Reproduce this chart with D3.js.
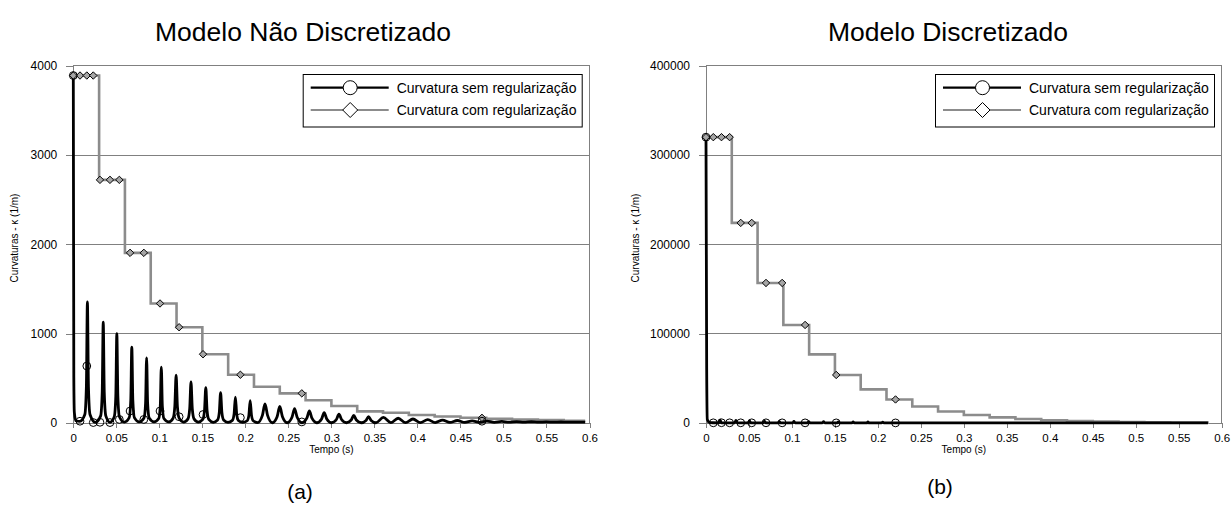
<!DOCTYPE html>
<html>
<head>
<meta charset="utf-8">
<script src="https://cdn.jsdelivr.net/npm/d3@7"></script>
<style>
  html, body { margin: 0; padding: 0; background: #fff; }
  svg { display: block; font-family: "Liberation Sans", Arial, Helvetica, sans-serif; }
</style>
</head>
<body>
<svg id="fig" width="1232" height="506"></svg>
<script>
// ---- shared tick values ----
const tempoTicks = [0, 0.05, 0.1, 0.15, 0.2, 0.25, 0.3, 0.35, 0.4, 0.45, 0.5, 0.55, 0.6];
const kTicksA = [0, 1000, 2000, 3000, 4000];
const kTicksB = [0, 100000, 200000, 300000, 400000];
const legendLabels = ["Curvatura sem regularização", "Curvatura com regularização"];

// ---- (a) Modelo Não Discretizado ----
// regularised curvature, constant over each 0.03 s interval
const stepTempoA = [0, 0.03, 0.06, 0.09, 0.12, 0.15, 0.18, 0.21, 0.24, 0.27, 0.30,
                    0.33, 0.36, 0.39, 0.42, 0.45, 0.48, 0.51, 0.54, 0.57, 0.595];
const stepKappaA = [3890, 2722, 1905, 1338, 1072, 770, 540, 405, 332, 255, 190,
                    130, 115, 90, 72, 58, 48, 40, 32, 26, 26];

// curvature without regularisation (time s, curvature 1/m)
const semRegA = [
  [0, 3890], [0.0006, 510], [0.0012, 120], [0.003, 25], [0.0075, 18],
  [0.0134, 95], [0.0152, 405], [0.0164, 1355], [0.0176, 405], [0.0194, 95], [0.0256, 8],
  [0.0318, 80], [0.0336, 340], [0.0348, 1130], [0.036, 340], [0.0378, 80], [0.0427, 8],
  [0.0476, 70], [0.0494, 300], [0.0506, 1000], [0.0518, 300], [0.0536, 70], [0.0593, 10],
  [0.065, 60], [0.0668, 255], [0.068, 850], [0.0692, 255], [0.071, 60], [0.0766, 12],
  [0.0822, 55], [0.084, 220], [0.0852, 730], [0.0864, 220], [0.0882, 55], [0.0938, 12],
  [0.0993, 50], [0.1011, 190], [0.1023, 625], [0.1035, 190], [0.1053, 50], [0.1109, 12],
  [0.116, 54], [0.118, 187], [0.1195, 535], [0.121, 187], [0.123, 54], [0.1282, 10],
  [0.1333, 46], [0.1353, 161], [0.1368, 460], [0.1383, 161], [0.1403, 46], [0.1454, 10],
  [0.1505, 40], [0.1525, 138], [0.154, 395], [0.1555, 138], [0.1575, 40], [0.1626, 8],
  [0.1677, 34], [0.1697, 119], [0.1712, 340], [0.1727, 119], [0.1747, 34], [0.1798, 8],
  [0.1849, 29], [0.1869, 102], [0.1884, 290], [0.1899, 102], [0.1919, 29], [0.197, 6],
  [0.2021, 25], [0.2041, 88], [0.2056, 250], [0.2071, 88], [0.2091, 25], [0.2142, 5],
  [0.2198, 86], [0.2228, 215], [0.2258, 86], [0.2314, 3],
  [0.237, 74], [0.24, 185], [0.243, 74], [0.2486, 3],
  [0.2542, 64], [0.2572, 160], [0.2602, 64], [0.2658, 3],
  [0.2714, 54], [0.2744, 135], [0.2774, 54], [0.283, 3],
  [0.2886, 46], [0.2916, 115], [0.2946, 46], [0.3002, 3],
  [0.3058, 39], [0.3088, 98], [0.3118, 39], [0.3174, 3],
  [0.323, 34], [0.326, 84], [0.329, 34], [0.3346, 3],
  [0.3402, 29], [0.3432, 72], [0.3462, 29], [0.3518, 3],
  [0.3604, 62], [0.369, 4], [0.3776, 53], [0.3862, 4], [0.3948, 45], [0.4034, 5],
  [0.412, 38], [0.4206, 5], [0.4292, 33], [0.4378, 6], [0.4464, 28], [0.455, 7],
  [0.4636, 24], [0.4722, 8], [0.4808, 21], [0.4894, 8], [0.498, 18], [0.5066, 9],
  [0.5152, 16], [0.5238, 9], [0.5324, 14], [0.541, 9], [0.5496, 12], [0.5582, 9],
  [0.5668, 11], [0.5754, 9], [0.584, 10], [0.595, 9]
];

// marked samples
const markTempoA = [0, 0.0078, 0.0157, 0.0232, 0.031, 0.0426, 0.0535, 0.066, 0.082,
                    0.1008, 0.123, 0.1508, 0.1942, 0.2656, 0.475];
const markSemA = [3890, 20, 638, 5, 8, 5, 40, 134, 40, 134, 70, 95, 60, 12, 20];
const markComA = [3890, 3890, 3890, 3890, 2722, 2722, 2722, 1905, 1905, 1338, 1072,
                  770, 540, 332, 58];

// ---- (b) Modelo Discretizado ----
const stepTempoB = [0, 0.03, 0.06, 0.09, 0.12, 0.15, 0.18, 0.21, 0.24, 0.27, 0.30,
                    0.33, 0.36, 0.39, 0.42, 0.45, 0.48, 0.51, 0.54, 0.57, 0.585];
const stepKappaB = [320000, 224000, 156800, 109760, 76830, 53780, 37650, 26350, 18450,
                    12910, 9040, 6330, 4430, 3100, 2170, 1520, 1060, 745, 520, 365, 365];

const semRegB = [
  [0, 320000], [0.0008, 60000], [0.0015, 4000], [0.004, 600], [0.0078, 300],
  [0.015, 200], [0.0164, 3500], [0.0178, 200], [0.0334, 200], [0.0348, 2800], [0.0362, 200],
  [0.0492, 200], [0.0506, 2400], [0.052, 200], [0.0666, 200], [0.068, 2100], [0.0694, 200],
  [0.0838, 180], [0.0852, 1900], [0.0866, 180], [0.1009, 170], [0.1023, 1700], [0.1037, 170],
  [0.1181, 160], [0.1195, 1500], [0.1209, 160], [0.1354, 150], [0.1368, 1400], [0.1382, 150],
  [0.1526, 140], [0.154, 1300], [0.1554, 140], [0.1698, 130], [0.1712, 1200], [0.1726, 130],
  [0.187, 120], [0.1884, 1100], [0.1898, 120], [0.2042, 110], [0.2056, 1000], [0.207, 110],
  [0.25, 150], [0.35, 100], [0.45, 60], [0.584, 30]
];

const markTempoB = [0, 0.0085, 0.018, 0.0275, 0.0404, 0.0532, 0.0698, 0.0886, 0.1153,
                    0.1515, 0.2205];
const markSemB = [320000, 200, 300, 200, 200, 200, 200, 180, 160, 140, 110];
const markComB = [320000, 320000, 320000, 320000, 224000, 224000, 156800, 156800,
                  109760, 53780, 26350];

// ---- drawing ----
const svg = d3.select("#fig");
svg.append("rect").attr("width", 1232).attr("height", 506).attr("fill", "#fff");

const GRID = "#808080";
const GREY_LINE = "#8c8c8c";
const DIAMOND_FILL = "#a6a6a6";

function diamondPath(cx, cy, r) {
  return `M${cx},${cy - r}L${cx + r},${cy}L${cx},${cy + r}L${cx - r},${cy}Z`;
}

function panel(cfg) {
  const g = svg.append("g");
  const x = d3.scaleLinear().domain([0, 0.6]).range([cfg.left, cfg.right]);
  const y = d3.scaleLinear().domain(cfg.yDomain).range([423, 65.7]);

  // horizontal grid
  g.append("g").selectAll("line").data(cfg.yTicks.slice(1)).join("line")
    .attr("x1", cfg.left).attr("x2", cfg.right)
    .attr("y1", d => y(d)).attr("y2", d => y(d))
    .attr("stroke", GRID).attr("stroke-width", 1).attr("shape-rendering", "crispEdges");
  // right frame
  g.append("line").attr("x1", cfg.right).attr("x2", cfg.right)
    .attr("y1", y(cfg.yDomain[1])).attr("y2", y(0))
    .attr("stroke", GRID).attr("shape-rendering", "crispEdges");

  // axes
  const yAxis = g.append("g").attr("transform", `translate(${cfg.left},0)`)
    .call(d3.axisLeft(y).tickValues(cfg.yTicks).tickFormat(d3.format("d"))
      .tickSize(7).tickPadding(9));
  const xAxis = g.append("g").attr("transform", `translate(0,${y(0)})`)
    .call(d3.axisBottom(x).tickValues(tempoTicks).tickFormat(d => String(d))
      .tickSize(5).tickPadding(5.5));
  [yAxis, xAxis].forEach(a => {
    a.select(".domain").attr("stroke", GRID).attr("shape-rendering", "crispEdges");
    a.selectAll(".tick line").attr("stroke", GRID).attr("shape-rendering", "crispEdges");
    a.selectAll("text").attr("fill", "#000")
      .style("font-family", '"Liberation Sans", Arial, sans-serif');
  });
  yAxis.selectAll("text").style("font-size", "12px");
  xAxis.selectAll("text").style("font-size", "11.5px");

  // axis titles
  g.append("text").attr("x", (cfg.left + cfg.right) / 2).attr("y", 452.5)
    .attr("text-anchor", "middle").style("font-size", "10px").text("Tempo (s)");
  g.append("text")
    .attr("transform", `translate(${cfg.yLabelX},${cfg.yLabelY}) rotate(-90)`)
    .attr("text-anchor", "middle").style("font-size", "10px")
    .text("Curvaturas - \u03BA (1/m)");

  // title and panel letter
  g.append("text").attr("x", cfg.titleX).attr("y", 41).attr("text-anchor", "middle")
    .style("font-size", "26.5px").text(cfg.title);
  g.append("text").attr("x", cfg.letterX).attr("y", cfg.letterY).attr("text-anchor", "middle")
    .style("font-size", "21px").text(cfg.letter);

  // regularised curvature (steps)
  const stepLine = d3.line().x((d, i) => x(cfg.stepT[i])).y(d => y(d)).curve(d3.curveStepAfter);
  g.append("path").datum(cfg.stepK).attr("d", stepLine)
    .attr("fill", "none").attr("stroke", GREY_LINE).attr("stroke-width", 2.6)
    .attr("stroke-linejoin", "miter");

  // curvature without regularisation
  const rawLine = d3.line().x(d => x(d[0])).y(d => y(d[1])).curve(d3.curveMonotoneX);
  g.append("path").datum(cfg.raw).attr("d", rawLine)
    .attr("fill", "none").attr("stroke", "#000").attr("stroke-width", 2.8)
    .attr("stroke-linejoin", "round");

  // markers
  g.append("g").selectAll("path").data(cfg.markCom).join("path")
    .attr("d", (d, i) => diamondPath(x(cfg.markT[i]), y(d), 3.7))
    .attr("fill", DIAMOND_FILL).attr("stroke", "#000").attr("stroke-width", 1);
  g.append("g").selectAll("circle").data(cfg.markSem).join("circle")
    .attr("cx", (d, i) => x(cfg.markT[i])).attr("cy", d => y(d)).attr("r", 3.9)
    .attr("fill", "none").attr("stroke", "#000").attr("stroke-width", 1);

  // legend
  const lg = g.append("g").attr("transform", `translate(${cfg.legendX},74)`);
  lg.append("rect").attr("x", 0.5).attr("y", 0.5).attr("width", 279).attr("height", 52.5)
    .attr("fill", "#fff").attr("stroke", "#000").attr("stroke-width", 1);
  const rows = [13.7, 36];
  lg.append("line").attr("x1", 8).attr("x2", 86).attr("y1", rows[0]).attr("y2", rows[0])
    .attr("stroke", "#000").attr("stroke-width", 2.2);
  lg.append("circle").attr("cx", 47.5).attr("cy", rows[0]).attr("r", 7)
    .attr("fill", "#fff").attr("stroke", "#000").attr("stroke-width", 1);
  lg.append("line").attr("x1", 8).attr("x2", 86).attr("y1", rows[1]).attr("y2", rows[1])
    .attr("stroke", GREY_LINE).attr("stroke-width", 2.2);
  lg.append("path").attr("d", diamondPath(47.5, rows[1], 7.5))
    .attr("fill", "#fff").attr("stroke", "#000").attr("stroke-width", 1);
  lg.selectAll("text.lab").data(legendLabels).join("text").attr("class", "lab")
    .attr("x", 94).attr("y", (d, i) => rows[i] + 5).style("font-size", "14px").text(d => d);
}

panel({
  left: 73.3, right: 589.5, yDomain: [0, 4000], yTicks: kTicksA, yLabelX: 18, yLabelY: 238,
  title: "Modelo Não Discretizado", titleX: 303, letter: "(a)", letterX: 300, letterY: 499,
  stepT: stepTempoA, stepK: stepKappaA, raw: semRegA,
  markT: markTempoA, markSem: markSemA, markCom: markComA, legendX: 302.7
});
panel({
  left: 706, right: 1221.7, yDomain: [0, 400000], yTicks: kTicksB, yLabelX: 639, yLabelY: 238,
  title: "Modelo Discretizado", titleX: 948, letter: "(b)", letterX: 940, letterY: 494,
  stepT: stepTempoB, stepK: stepKappaB, raw: semRegB,
  markT: markTempoB, markSem: markSemB, markCom: markComB, legendX: 935
});
</script>
</body>
</html>
